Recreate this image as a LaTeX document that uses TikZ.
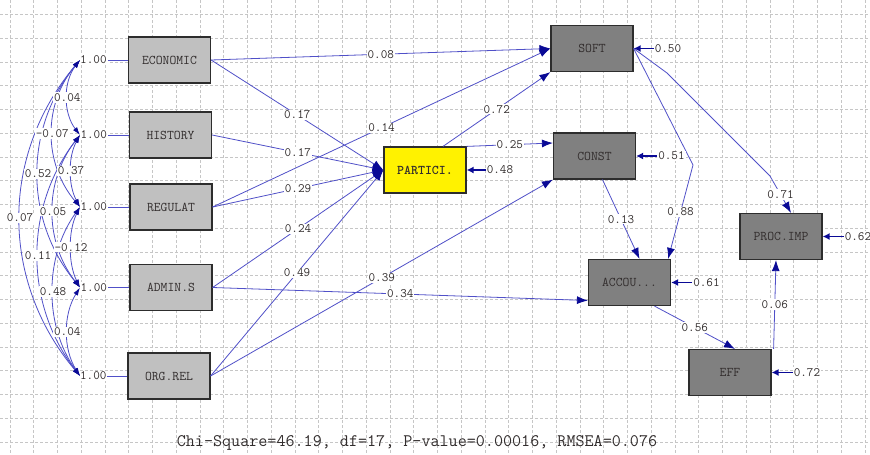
\documentclass[tikz,border=0pt]{standalone}
\usepackage{fontspec}
\usetikzlibrary{arrows.meta,positioning}

\definecolor{lineblue}{RGB}{80,80,200}
\definecolor{tipblue}{RGB}{10,10,150}
\definecolor{exogray}{RGB}{192,192,192}
\definecolor{endogray}{RGB}{128,128,128}
\definecolor{boxline}{RGB}{45,45,45}
\definecolor{labtext}{RGB}{50,45,45}

\tikzset{
  gridline/.style={draw=gray!45, dash pattern=on 2.5pt off 2.5pt, line width=0.6pt},
  exo/.style={draw=boxline, line width=1.2pt, fill=exogray, minimum width=82pt,
    minimum height=46pt, text=labtext, font=\ttfamily\fontsize{13.3}{15}\selectfont},
  endo/.style={exo, fill=endogray},
  yel/.style={exo, fill=yellow},
  lab/.style={fill=white, inner sep=1pt, text=labtext, font=\ttfamily\fontsize{12.8}{14}\selectfont},
  plain/.style={draw=lineblue, line width=0.8pt},
  effect/.style={plain, -{Latex[length=11pt,width=8pt,color=tipblue]}},
  cov/.style={plain, {Latex[length=8pt,width=5pt,color=tipblue]}-{Latex[length=8pt,width=5pt,color=tipblue]}},
  err/.style={draw=tipblue, line width=1.8pt, -{Latex[length=7pt,width=7pt]}},
  stat/.style={text=labtext, font=\ttfamily\fontsize{17.6}{20}\selectfont}
}

\begin{document}
\begin{tikzpicture}[x=1pt,y=-1pt]
  \useasboundingbox (0,0) rectangle (870,455);
  \fill[white] (0,0) rectangle (870,455);

  % Grid
  \foreach \i in {0,...,36}
    \draw[gridline] ({10+23.75*\i},0) -- ({10+23.75*\i},455);
  \foreach \j in {0,...,18}
    \draw[gridline] (0,{14.5+23.75*\j}) -- (870,{14.5+23.75*\j});

  % Boxes
  \node[exo] (economic) at (169.5,60) {ECONOMIC};
  \node[exo] (history) at (170.5,135) {HISTORY};
  \node[exo] (regulat) at (171,207) {REGULAT};
  \node[exo] (admins) at (171,287.5) {ADMIN.S};
  \node[exo] (orgrel) at (169,376) {ORG.REL};
  \node[yel] (partici) at (425,170) {\bfseries PARTICI.};
  \node[endo] (soft) at (592,48.5) {SOFT};
  \node[endo] (const) at (594.5,156) {CONST};
  \node[endo] (accou) at (629.5,282.5) {ACCOU...};
  \node[endo] (procimp) at (781,236.5) {PROC.IMP};
  \node[endo] (eff) at (730,372.5) {EFF};

  % Variances
  \coordinate (pe) at (80,60);
  \coordinate (ph) at (80,135);
  \coordinate (pr) at (80,207);
  \coordinate (pa) at (80,287.5);
  \coordinate (po) at (80,376);
  \draw[plain] (pe) -- node[lab,pos=0.28]{1.00} (economic.west);
  \draw[plain] (ph) -- node[lab,pos=0.28]{1.00} (history.west);
  \draw[plain] (pr) -- node[lab,pos=0.28]{1.00} (regulat.west);
  \draw[plain] (pa) -- node[lab,pos=0.28]{1.00} (admins.west);
  \draw[plain] (po) -- node[lab,pos=0.28]{1.00} (orgrel.west);

  % Covariances
  \draw[cov] (pe) .. controls +(-80,95) and +(-80,-95) .. node[lab]{0.07} (po);
  \draw[cov] (pe) .. controls +(-56,68) and +(-56,-68) .. node[lab]{0.52} (pa);
  \draw[cov] (ph) .. controls +(-56,72) and +(-56,-72) .. node[lab]{0.11} (po);
  \draw[cov] (pe) .. controls +(-37,44) and +(-37,-44) .. node[lab]{-0.07} (pr);
  \draw[cov] (ph) .. controls +(-36,46) and +(-36,-46) .. node[lab]{0.05} (pa);
  \draw[cov] (pr) .. controls +(-36,50) and +(-36,-50) .. node[lab]{0.48} (po);
  \draw[cov] (pe) .. controls +(-17,22) and +(-17,-22) .. node[lab]{0.04} (ph);
  \draw[cov] (ph) .. controls +(-12,22) and +(-12,-22) .. node[lab]{0.37} (pr);
  \draw[cov] (pr) .. controls +(-12,24) and +(-12,-24) .. node[lab]{-0.12} (pa);
  \draw[cov] (pa) .. controls +(-17,27) and +(-17,-27) .. node[lab]{0.04} (po);

  % Effects
  \draw[effect] (economic.east) -- node[lab]{0.08} (soft.west);
  \draw[effect] (economic.east) -- node[lab]{0.17} (partici.west);
  \draw[effect] (history.east) -- node[lab]{0.17} (partici.west);
  \draw[effect] (regulat.east) -- node[lab]{0.14} (soft.west);
  \draw[effect] (regulat.east) -- node[lab]{0.29} (partici.west);
  \draw[effect] (admins.east) -- node[lab]{0.24} (partici.west);
  \draw[effect] (admins.east) -- node[lab]{0.34} ([yshift=-18pt]accou.west);
  \draw[effect] (orgrel.east) -- node[lab]{0.49} (partici.west);
  \draw[effect] (orgrel.east) -- node[lab]{0.39} (const.south west);
  \draw[effect] ([xshift=18pt]partici.north) -- node[lab]{0.72} (soft.south west);
  \draw[effect] (partici.north east) -- node[lab]{0.25} ([yshift=13pt]const.west);
  \coordinate (bend1) at (693,165);
  \draw[effect] (soft.east) -- (bend1) -- node[lab]{0.88} ([xshift=-3pt]accou.north east);
  \coordinate (bend2) at (667,73);
  \coordinate (bend3) at (770,176);
  \draw[effect] (soft.east) -- (bend2) -- (bend3) -- node[lab]{0.71} ([xshift=10pt]procimp.north);
  \draw[effect] ([xshift=8pt]const.south) -- node[lab]{0.13} ([xshift=10pt]accou.north);
  \draw[effect] ([xshift=25pt]accou.south) -- node[lab]{0.56} ([xshift=5pt]eff.north);
  \draw[effect] ([xshift=2pt]eff.north east) -- node[lab]{0.06} ([xshift=-5pt]procimp.south);

  % Errors
  \node[lab, right=19pt of partici] (epartici) {0.48};
  \node[lab, right=20pt of soft] (esoft) {0.50};
  \node[lab, right=21pt of const] (econst) {0.51};
  \node[lab, right=21pt of accou] (eaccou) {0.61};
  \node[lab, right=21pt of procimp] (eprocimp) {0.62};
  \node[lab, right=21pt of eff] (eeff) {0.72};
  \draw[err] (epartici) -- (partici);
  \draw[err] (esoft) -- (soft);
  \draw[err] (econst) -- (const);
  \draw[err] (eaccou) -- (accou);
  \draw[err] (eprocimp) -- (procimp);
  \draw[err] (eeff) -- (eff);

  % Fit
  \node[stat] (fit) at (417,443) {Chi-Square=46.19, df=17, P-value=0.00016, RMSEA=0.076};
\end{tikzpicture}
\end{document}
